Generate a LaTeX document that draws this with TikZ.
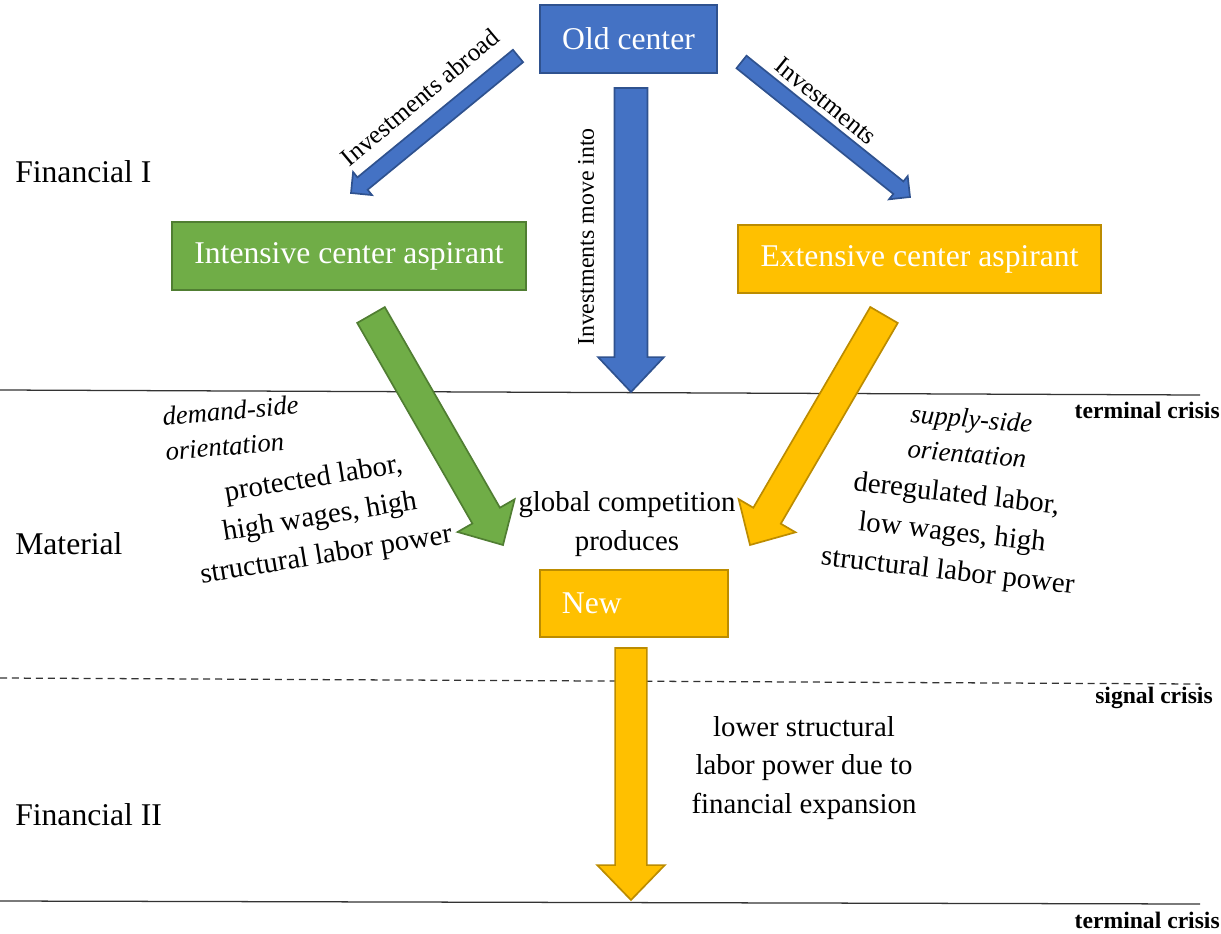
\documentclass[tikz,border=0pt]{standalone}
\usepackage{fontspec}
\setmainfont{Liberation Serif}
\usepackage{tikz}
\usetikzlibrary{calc}
\definecolor{oldblue}{HTML}{4472C4}
\definecolor{oldblueline}{HTML}{2F528F}
\definecolor{aspgreen}{HTML}{70AD47}
\definecolor{aspgreenline}{HTML}{507E32}
\definecolor{aspgold}{HTML}{FFC000}
\definecolor{aspgoldline}{HTML}{BC8C00}
\newcommand{\boxfont}{\fontsize{22.5}{27}\selectfont}
\newcommand{\bodyfont}{\fontsize{20.5}{27.5}\selectfont}
\newcommand{\orientfont}{\fontsize{19}{25}\selectfont\itshape}
\newcommand{\crisisfont}{\fontsize{16.8}{20}\selectfont\bfseries}
% block arrow: style, tail, tip, half shaft, half head, head length
\newcommand{\blockarrow}[6]{%
 \coordinate (bah) at ($(#3)!#6!(#2)$);
 \draw[#1] ($(#2)!#4!90:(#3)$) -- ($(bah)!#4!90:(#3)$) -- ($(bah)!#5!90:(#3)$) -- (#3)
   -- ($(bah)!#5!-90:(#3)$) -- ($(bah)!#4!-90:(#3)$) -- ($(#2)!#4!-90:(#3)$) -- cycle;
}

\begin{document}
\begin{tikzpicture}[x=0.025cm, y=-0.025cm,
 box/.style={rectangle, line width=1.2pt, text=white, font=\boxfont, inner sep=0pt, minimum height=1.7cm},
 bluebox/.style={box, fill=oldblue, draw=oldblueline},
 greenbox/.style={box, fill=aspgreen, draw=aspgreenline},
 goldbox/.style={box, fill=aspgold, draw=aspgoldline},
 bluearr/.style={fill=oldblue, draw=oldblueline, line width=1.2pt},
 greenarr/.style={fill=aspgreen, draw=aspgreenline, line width=1.2pt},
 goldarr/.style={fill=aspgold, draw=aspgoldline, line width=1.2pt},
 phase/.style={font=\boxfont, inner sep=0pt, anchor=west},
 crisis/.style={font=\crisisfont, inner sep=0pt, anchor=east},
 body/.style={font=\bodyfont, align=center, inner sep=0pt},
 orient/.style={font=\orientfont, align=left, inner sep=0pt},
 arrlabel/.style={font=\fontsize{18}{21}\selectfont, inner sep=0pt},
 crisisline/.style={line width=0.9pt, black!80}]
 \useasboundingbox (0,0) rectangle (1221,933);

 % phase lines
 \draw[crisisline] (0,390) coordinate (termal) -- (1200,395) coordinate (termar);
 \draw[crisisline, dash pattern=on 5pt off 3.5pt] (0,678) coordinate (signall) -- (1200,684) coordinate (signalr);
 \draw[crisisline] (0,901) coordinate (termbl) -- (1200,904) coordinate (termbr);
 \node[crisis] (termtop) at (1220,410) {terminal crisis};
 \node[crisis] (signal) at (1213,698) {signal crisis};
 \node[crisis] (termbot) at (1220,920) {terminal crisis};

 % phases
 \node[phase] (fin1) at (15,172) {Financial I};
 \node[phase] (material) at (15,544) {Material};
 \node[phase] (fin2) at (15,815) {Financial II};

 % centers
 \node[bluebox, minimum width=4.425cm] (old) at (628.5,39) {Old center};
 \node[greenbox, minimum width=8.85cm] (intensive) at (349,256) {Intensive center aspirant};
 \node[goldbox, minimum width=9.075cm] (extensive) at (919.5,259) {Extensive center aspirant};
 \node[goldbox, minimum height=1.675cm, text width=3.6cm, inner xsep=0.55cm, align=left] (new) at (634,603.5) {New};

 % arrow ends
 \coordinate (abroadtail) at (518,56);
 \coordinate (abroadtip) at (351,193);
 \coordinate (investtail) at (741.5,62);
 \coordinate (investtip) at (910,197);
 \coordinate (movetail) at (631,88);
 \coordinate (movetip) at (631,392);
 \coordinate (demandtail) at (371,315);
 \coordinate (demandtip) at (503,545);
 \coordinate (supplytail) at (884,315);
 \coordinate (supplytip) at (750,545);
 \coordinate (fintail) at (631,648);
 \coordinate (fintip) at (631,900);

 \blockarrow{bluearr}{abroadtail}{abroadtip}{5.7pt}{10.6pt}{10.6pt}
 \blockarrow{bluearr}{investtail}{investtip}{5.7pt}{10.6pt}{10.6pt}
 \blockarrow{bluearr}{movetail}{movetip}{11.7pt}{23.4pt}{24.8pt}
 \blockarrow{greenarr}{demandtail}{demandtip}{11.3pt}{23.4pt}{24.1pt}
 \blockarrow{goldarr}{supplytail}{supplytip}{11.3pt}{23.4pt}{24.1pt}
 \blockarrow{goldarr}{fintail}{fintip}{11.3pt}{24pt}{24.8pt}

 % arrow labels
 \node[arrlabel, rotate=40] (abroadlab) at (420,97) {Investments abroad};
 \node[arrlabel, rotate=-39] (investlab) at (826,101) {Investments};
 \node[arrlabel, font=\fontsize{17}{20}\selectfont, rotate=90] (movelab) at (586,237) {Investments move into};

 % texts
 \node[orient, rotate=5] (demandor) at (232,428) {demand-side\\orientation};
 \node[orient, rotate=-5] (supplyor) at (970,436) {supply-side\\orientation};
 \node[body, rotate=9.3] (protected) at (320,518) {protected labor,\\high wages, high\\structural labor power};
 \node[body, rotate=-6.5] (dereg) at (952,534) {deregulated labor,\\low wages, high\\structural labor power};
 \node[body] (global) at (627,524) {global competition\\produces};
 \node[body] (lower) at (804,768) {lower structural\\labor power due to\\financial expansion};
\end{tikzpicture}
\end{document}
